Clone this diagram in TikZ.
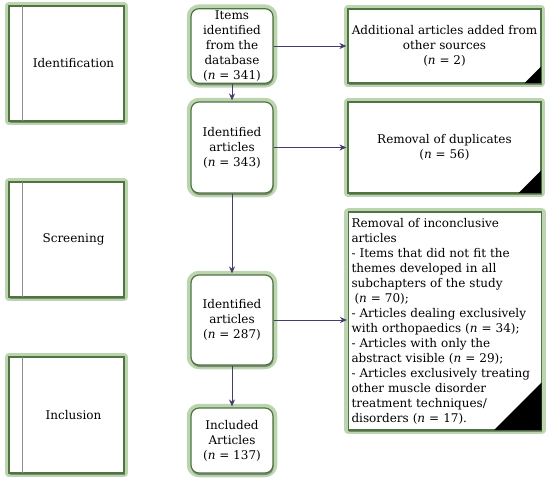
\documentclass[tikz,border=0pt]{standalone}
\usepackage{fontspec}
\setmainfont{DejaVu Serif}
\usetikzlibrary{arrows.meta,shadows,calc}
\definecolor{dgreen}{RGB}{78,116,64}
\definecolor{lgreen}{RGB}{188,213,176}
\definecolor{arr}{RGB}{72,58,108}
\begin{document}
\begin{tikzpicture}[x=1pt,y=-1pt,
  font=\fontsize{12}{15}\selectfont,
  box/.style={draw=dgreen, line width=1.2pt, fill=white, inner sep=2pt, align=center,
    preaction={draw=lgreen, line width=8.5pt, line join=round},
    drop shadow={shadow xshift=0.5pt, shadow yshift=-2pt, fill=black, opacity=0.35}},
  stagebox/.style={box, minimum width=115pt},
  flowbox/.style={box, rounded corners=8pt, minimum width=82pt},
  sidebox/.style={box, minimum width=193pt},
  arrow/.style={draw=arr, line width=0.9pt, -{Stealth[length=7pt,width=6pt]}, shorten >=1pt},
  stageline/.style={draw=black!45, line width=0.9pt},
  corner/.style={fill=black}
]
\useasboundingbox (0,0) rectangle (550,485);

% stage boxes
\node[stagebox, minimum height=115pt] (identbox) at (66.5,63.5) {};
\node[stagebox, minimum height=115pt] (screenbox) at (66.5,239.5) {};
\node[stagebox, minimum height=116pt] (inclbox) at (66.5,415) {};
\foreach \b in {identbox,screenbox,inclbox}{
  \draw[stageline] ($(\b.north west)+(14,0.6)$) -- ($(\b.south west)+(14,-0.6)$);
}
\node (identtxt) at ($(identbox.center)+(7,0)$) {Identification};
\node (screentxt) at ($(screenbox.center)+(7,0)$) {Screening};
\node (incltxt) at ($(inclbox.center)+(7,0)$) {Inclusion};

% flow boxes
\node[flowbox, minimum height=74pt] (items) at (232,46) {Items\\identified\\from the\\database\\(\textit{n} = 341)};
\node[flowbox, minimum height=91pt] (ident343) at (232,147.5) {Identified\\articles\\(\textit{n} = 343)};
\node[flowbox, minimum height=90pt] (ident287) at (232,320) {Identified\\articles\\(\textit{n} = 287)};
\node[flowbox, minimum height=65pt] (included) at (232,440.5) {Included\\Articles\\(\textit{n} = 137)};

% side boxes
\node[sidebox, minimum height=74pt] (additional) at (444.5,46) {Additional articles added from\\other sources\\(\textit{n} = 2)};
\node[sidebox, minimum height=91pt] (dups) at (444.5,147.5) {Removal of duplicates\\(\textit{n} = 56)};
\node[sidebox, minimum height=218pt, text width=187pt, inner sep=2.5pt, align=left] (inconcl) at (445,321) {%
Removal of inconclusive\\
articles\\
- Items that did not fit the\\
themes developed in all\\
subchapters of the study\\
\hspace*{3pt}(\textit{n} = 70);\\
- Articles dealing exclusively\\
with orthopaedics (\textit{n} = 34);\\
- Articles with only the\\
abstract visible (\textit{n} = 29);\\
- Articles exclusively treating\\
other muscle disorder\\
treatment techniques/\\
disorders (\textit{n} = 17).};

% corner triangles
\fill[corner] ($(additional.south east)+(-17,-0.6)$) -- ($(additional.south east)+(-0.6,-0.6)$) -- ($(additional.south east)+(-0.6,-17)$) -- cycle;
\fill[corner] ($(dups.south east)+(-23,-0.6)$) -- ($(dups.south east)+(-0.6,-0.6)$) -- ($(dups.south east)+(-0.6,-23)$) -- cycle;
\fill[corner] ($(inconcl.south east)+(-48,-0.6)$) -- ($(inconcl.south east)+(-0.6,-0.6)$) -- ($(inconcl.south east)+(-0.6,-48)$) -- cycle;

% connectors
\draw[arrow] (items) -- (ident343);
\draw[arrow] (ident343) -- (ident287);
\draw[arrow] (ident287) -- (included);
\draw[arrow] (items.east) -- (additional.west);
\draw[arrow] (ident343.east) -- (dups.west);
\draw[arrow] (ident287.east) -- (ident287.east -| inconcl.west);
\end{tikzpicture}
\end{document}
